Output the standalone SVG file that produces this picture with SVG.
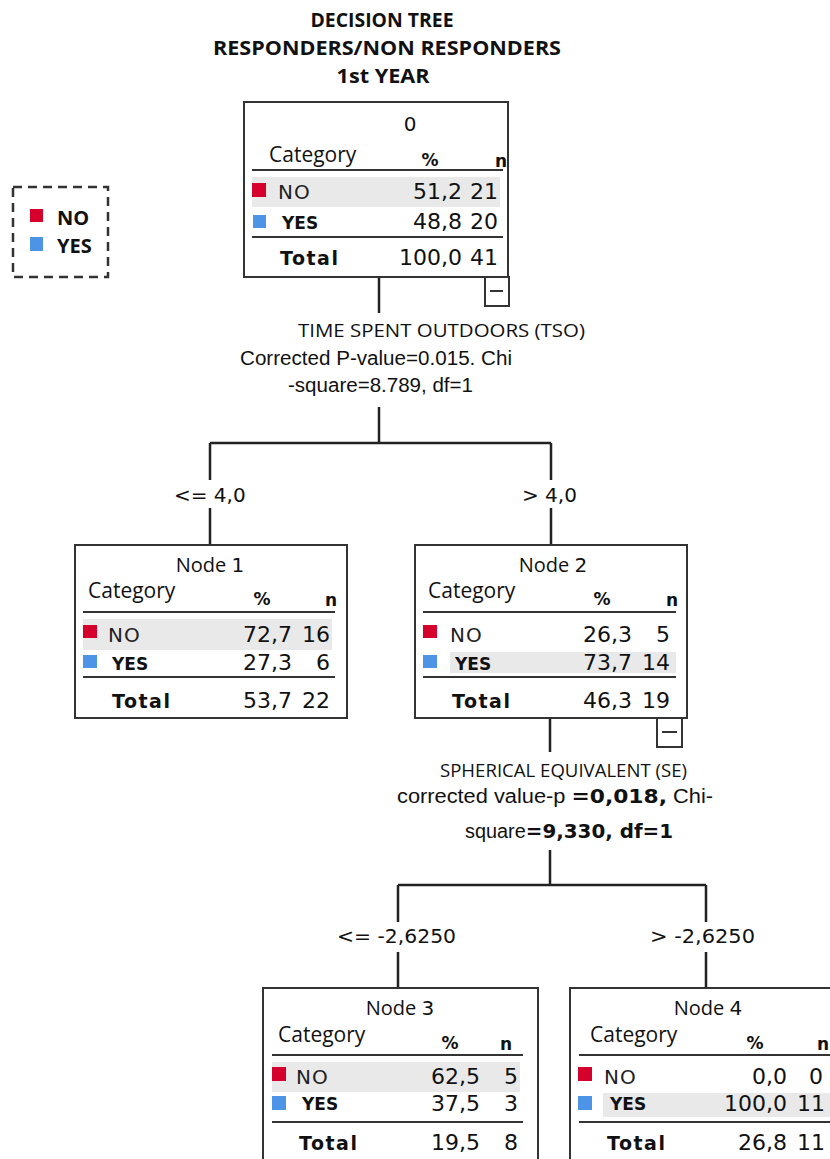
<svg xmlns="http://www.w3.org/2000/svg" width="830" height="1159" viewBox="0 0 830 1159">
<style>
.box{fill:#fff;stroke:#333;stroke-width:2}
.hl{fill:#e9e9e9}
.rule{stroke:#333;stroke-width:2.2}
.red{fill:#d6002c}
.blue{fill:#4d94e6}
.conn{fill:none;stroke:#222;stroke-width:2.5}
.ttl{font-family:"Open Sans","Liberation Sans",sans-serif;font-weight:bold;font-size:20px;fill:#111;text-anchor:middle}
.hdr{font-family:"Open Sans","Noto Sans",sans-serif;font-size:21px;fill:#111}
.nd{font-family:"Open Sans","Noto Sans",sans-serif;font-size:20px;fill:#111;text-anchor:middle}
.pct{font-family:"DejaVu Sans",sans-serif;font-weight:bold;font-size:17px;fill:#111;text-anchor:middle}
.n{font-family:"DejaVu Sans",sans-serif;font-weight:bold;font-size:17px;fill:#111;text-anchor:end}
.num{font-family:"DejaVu Sans",sans-serif;font-size:22px;fill:#111;text-anchor:end}
.no{font-family:"DejaVu Sans",sans-serif;font-size:20px;fill:#222;letter-spacing:1px}
.yes{font-family:"DejaVu Sans",sans-serif;font-weight:bold;font-size:17px;fill:#111}
.tot{font-family:"DejaVu Sans",sans-serif;font-weight:bold;font-size:19px;fill:#111;letter-spacing:1.5px}
.lbl{font-family:"DejaVu Sans",sans-serif;font-size:20px;fill:#111}
.split{font-family:"Liberation Sans",sans-serif;font-size:20px;fill:#111}
.splitc{font-family:"Open Sans","Liberation Sans",sans-serif;font-size:18px;fill:#111}
.leg{font-family:"Open Sans","Liberation Sans",sans-serif;font-weight:bold;font-size:20px;fill:#111}
</style>

<g id="title">
<text class="ttl" x="382" y="27" textLength="143" lengthAdjust="spacingAndGlyphs">DECISION TREE</text>
<text class="ttl" x="387" y="55" textLength="348" lengthAdjust="spacingAndGlyphs">RESPONDERS/NON RESPONDERS</text>
<text class="ttl" x="383" y="83" textLength="93" lengthAdjust="spacingAndGlyphs">1st YEAR</text>
</g>

<g id="legend">
<rect x="13" y="187" width="95" height="90" fill="none" stroke="#333" stroke-width="2.5" stroke-dasharray="9,6"/>
<rect class="red" x="30" y="209" width="13" height="13"/>
<text class="leg" x="57" y="225">NO</text>
<rect class="blue" x="30" y="237" width="13" height="14"/>
<text class="leg" x="57" y="253">YES</text>
</g>

<g id="connectors">
<path class="conn" d="M379 277V313M379 407V443M210 443H551M210 443V480M210 508V545M551 443V480M551 508V545"/>
<path class="conn" d="M550 718V752M550 850V885M398 885H706M398 885V922M398 952V988M706 885V922M706 952V988"/>
<rect x="485" y="277" width="24" height="29" class="box"/>
<line x1="490" y1="291" x2="503" y2="291" stroke="#333" stroke-width="2"/>
<rect x="657" y="718" width="25" height="29" class="box"/>
<line x1="662" y1="732" x2="677" y2="732" stroke="#333" stroke-width="2"/>
</g>

<g id="split1">
<text class="splitc" x="298" y="337" textLength="287" lengthAdjust="spacingAndGlyphs">TIME SPENT OUTDOORS  (TSO)</text>
<text class="split" x="240" y="365" textLength="272" lengthAdjust="spacingAndGlyphs">Corrected P-value=0.015. Chi</text>
<text class="split" x="288" y="392" textLength="185" lengthAdjust="spacingAndGlyphs">-square=8.789, df=1</text>
</g>
<g id="edge-labels1">
<text class="lbl" x="174" y="502">&lt;= 4,0</text>
<text class="lbl" x="522" y="502">&gt; 4,0</text>
</g>

<g id="split2">
<text class="splitc" x="440" y="777" textLength="247" lengthAdjust="spacingAndGlyphs">SPHERICAL EQUIVALENT (SE)</text>
<text class="split" x="397" y="803" textLength="316" lengthAdjust="spacingAndGlyphs">corrected value-p <tspan font-family="DejaVu Sans" font-weight="bold">=0,018,</tspan> Chi-</text>
<text class="split" x="465" y="838" textLength="208" lengthAdjust="spacingAndGlyphs">square<tspan font-family="DejaVu Sans" font-weight="bold">=9,330, df=1</tspan></text>
</g>
<g id="edge-labels2">
<text class="lbl" x="337" y="943" textLength="119" lengthAdjust="spacingAndGlyphs">&lt;= -2,6250</text>
<text class="lbl" x="650" y="943" textLength="105" lengthAdjust="spacingAndGlyphs">&gt; -2,6250</text>
</g>

<g id="node0">
<rect class="box" x="244" y="102" width="264" height="175"/>
<text class="lbl" x="410" y="131" text-anchor="middle">0</text>
<text class="hdr" x="269" y="162">Category</text>
<text class="pct" x="430" y="166">%</text>
<text class="n" x="507" y="167">n</text>
<line class="rule" x1="252" y1="170" x2="503" y2="170"/>
<rect class="hl" x="252" y="177" width="248" height="30"/>
<rect class="red" x="252" y="183" width="14" height="14"/>
<text class="no" x="278" y="199">NO</text>
<text class="num" x="462" y="199">51,2</text>
<text class="num" x="498" y="199">21</text>
<rect class="blue" x="253" y="215" width="13" height="13"/>
<text class="yes" x="282" y="229">YES</text>
<text class="num" x="462" y="229">48,8</text>
<text class="num" x="498" y="229">20</text>
<line class="rule" x1="252" y1="237" x2="503" y2="237"/>
<text class="tot" x="280" y="265">Total</text>
<text class="num" x="462" y="265">100,0</text>
<text class="num" x="498" y="265">41</text>
</g>

<g id="node1">
<rect class="box" x="75" y="545" width="272" height="173"/>
<text class="nd" x="210" y="572">Node <tspan font-family="DejaVu Sans">1</tspan></text>
<text class="hdr" x="88" y="598">Category</text>
<text class="pct" x="262" y="605">%</text>
<text class="n" x="337" y="606">n</text>
<line class="rule" x1="83" y1="612" x2="335" y2="612"/>
<rect class="hl" x="83" y="619" width="249" height="31"/>
<rect class="red" x="83" y="625" width="14" height="13"/>
<text class="no" x="108" y="642">NO</text>
<text class="num" x="292" y="642">72,7</text>
<text class="num" x="330" y="642">16</text>
<rect class="blue" x="83" y="655" width="14" height="13"/>
<text class="yes" x="112" y="670">YES</text>
<text class="num" x="292" y="670">27,3</text>
<text class="num" x="330" y="670">6</text>
<line class="rule" x1="83" y1="677" x2="335" y2="677"/>
<text class="tot" x="112" y="708">Total</text>
<text class="num" x="292" y="708">53,7</text>
<text class="num" x="330" y="708">22</text>
</g>

<g id="node2">
<rect class="box" x="415" y="545" width="272" height="173"/>
<text class="nd" x="553" y="572">Node <tspan font-family="DejaVu Sans">2</tspan></text>
<text class="hdr" x="428" y="598">Category</text>
<text class="pct" x="602" y="605">%</text>
<text class="n" x="678" y="606">n</text>
<line class="rule" x1="423" y1="612" x2="676" y2="612"/>
<rect class="red" x="423" y="625" width="14" height="13"/>
<text class="no" x="450" y="642">NO</text>
<text class="num" x="632" y="642">26,3</text>
<text class="num" x="670" y="642">5</text>
<rect class="hl" x="450" y="652" width="226" height="21"/>
<rect class="blue" x="423" y="655" width="14" height="13"/>
<text class="yes" x="455" y="670">YES</text>
<text class="num" x="632" y="670">73,7</text>
<text class="num" x="670" y="670">14</text>
<line class="rule" x1="423" y1="677" x2="676" y2="677"/>
<text class="tot" x="452" y="708">Total</text>
<text class="num" x="632" y="708">46,3</text>
<text class="num" x="670" y="708">19</text>
</g>

<g id="node3">
<rect class="box" x="263" y="988" width="275" height="185"/>
<text class="nd" x="400" y="1015">Node <tspan font-family="DejaVu Sans">3</tspan></text>
<text class="hdr" x="278" y="1042">Category</text>
<text class="pct" x="450" y="1049">%</text>
<text class="n" x="512" y="1050">n</text>
<line class="rule" x1="272" y1="1055" x2="523" y2="1055"/>
<rect class="hl" x="272" y="1062" width="248" height="30"/>
<rect class="red" x="272" y="1067" width="14" height="14"/>
<text class="no" x="296" y="1084">NO</text>
<text class="num" x="480" y="1084">62,5</text>
<text class="num" x="518" y="1084">5</text>
<rect class="blue" x="272" y="1096" width="14" height="14"/>
<text class="yes" x="302" y="1110">YES</text>
<text class="num" x="480" y="1111">37,5</text>
<text class="num" x="518" y="1111">3</text>
<line class="rule" x1="272" y1="1122" x2="523" y2="1122"/>
<text class="tot" x="299" y="1150">Total</text>
<text class="num" x="480" y="1150">19,5</text>
<text class="num" x="518" y="1150">8</text>
</g>

<g id="node4">
<rect class="box" x="570" y="988" width="280" height="185"/>
<text class="nd" x="708" y="1015">Node <tspan font-family="DejaVu Sans">4</tspan></text>
<text class="hdr" x="590" y="1042">Category</text>
<text class="pct" x="755" y="1049">%</text>
<text class="n" x="829" y="1050">n</text>
<line class="rule" x1="579" y1="1055" x2="830" y2="1055"/>
<rect class="red" x="578" y="1067" width="14" height="14"/>
<text class="no" x="604" y="1084">NO</text>
<text class="num" x="787" y="1084">0,0</text>
<text class="num" x="823" y="1084">0</text>
<rect class="hl" x="603" y="1093" width="227" height="24"/>
<rect class="blue" x="578" y="1096" width="14" height="14"/>
<text class="yes" x="610" y="1110">YES</text>
<text class="num" x="787" y="1111">100,0</text>
<text class="num" x="825" y="1111">11</text>
<line class="rule" x1="579" y1="1122" x2="830" y2="1122"/>
<text class="tot" x="607" y="1150">Total</text>
<text class="num" x="787" y="1150">26,8</text>
<text class="num" x="825" y="1150">11</text>
</g>
</svg>
